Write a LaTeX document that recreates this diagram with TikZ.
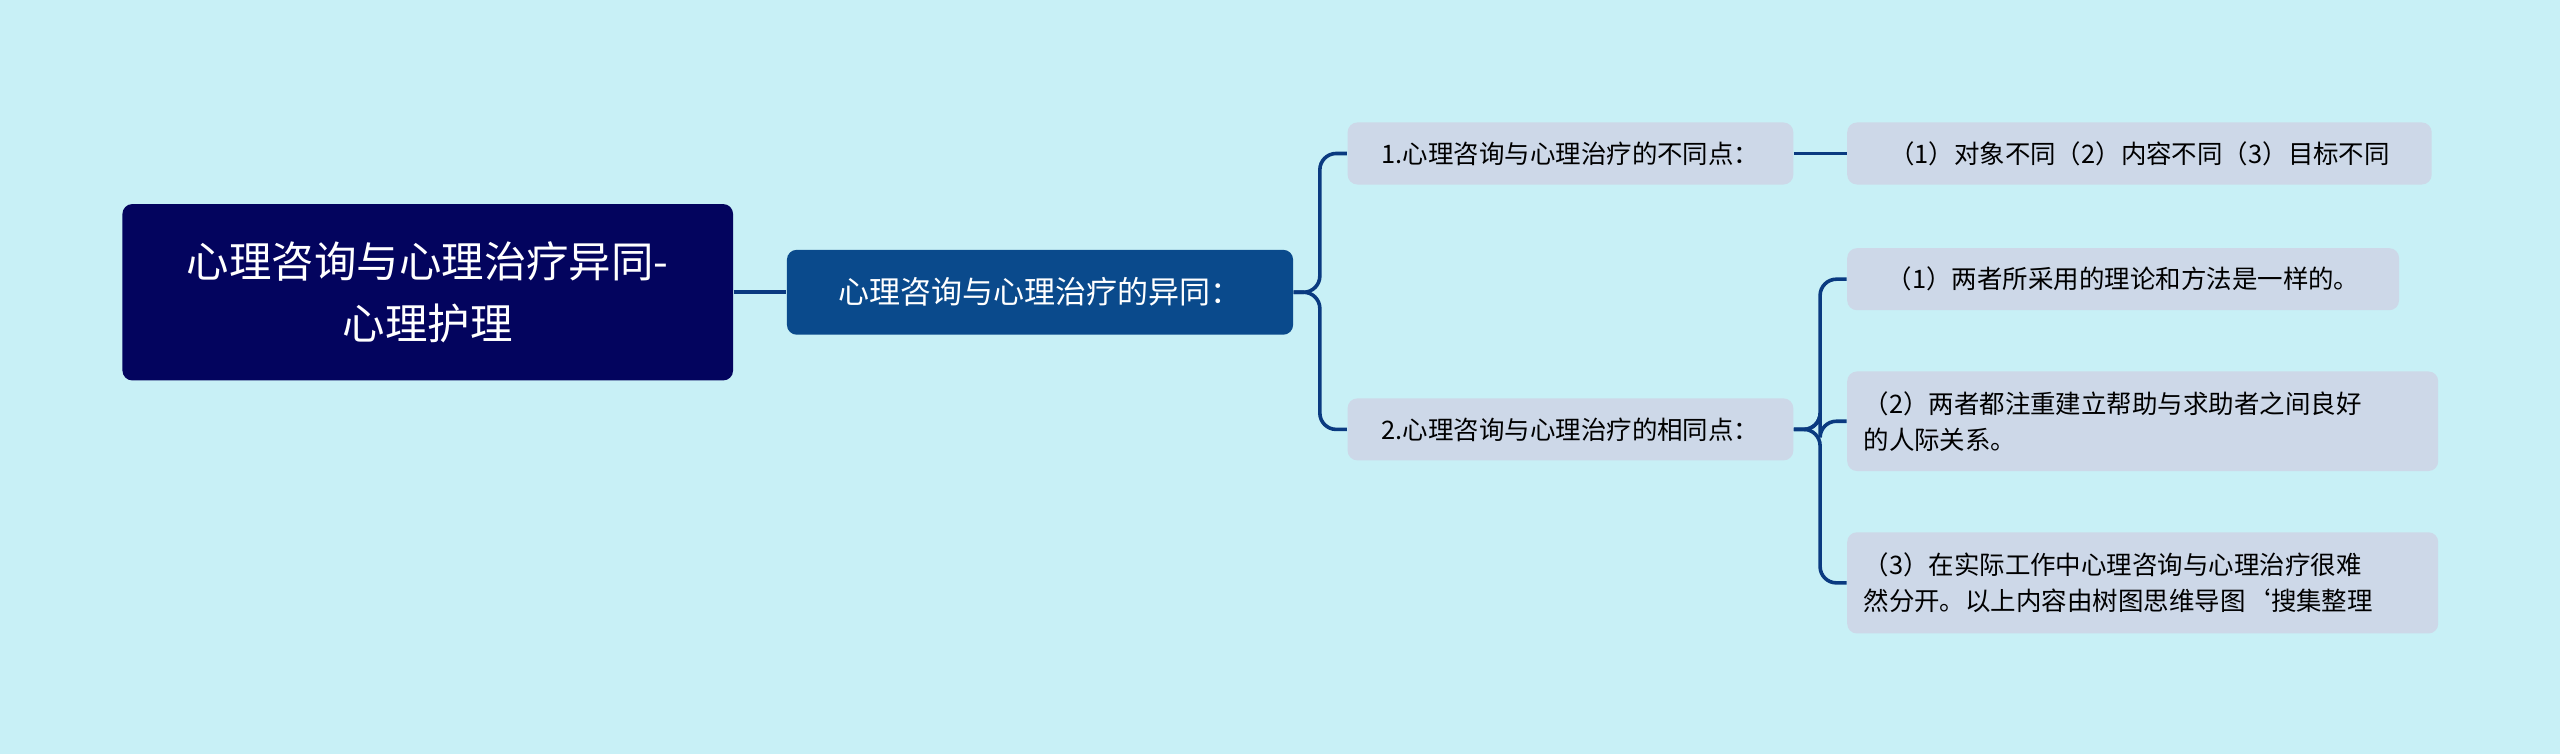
\documentclass[tikz,border=0pt]{standalone}
\usepackage{fontspec}
\setmainfont{Noto Sans CJK SC}
\definecolor{bg}{HTML}{C8F0F6}
\definecolor{rootc}{HTML}{03045E}
\definecolor{lonec}{HTML}{0A4A8C}
\definecolor{leafc}{HTML}{CDD8E8}
\definecolor{linec}{HTML}{0A3A80}
\begin{document}
\begin{tikzpicture}[x=0.5pt,y=-0.5pt,
  rootbox/.style={fill=rootc,text=white,rounded corners=3pt,font=\fontsize{13}{19}\selectfont,align=center,minimum width=187pt,minimum height=54pt,inner sep=0pt},
  lonebox/.style={fill=lonec,text=white,rounded corners=3pt,font=\fontsize{9.5}{12}\selectfont,minimum width=155pt,minimum height=26pt,inner sep=0pt},
  leafbox/.style={fill=leafc,text=black,rounded corners=3pt,font=\fontsize{7.8}{11}\selectfont,align=left,inner xsep=5pt,inner ysep=0pt,anchor=west},
  conn/.style={draw=linec,line width=1.1pt,rounded corners=5pt}]
\fill[bg] (0,0) rectangle (1568,462);
\node[rootbox] (root) at (262,179) {心理咨询与心理治疗异同-\\心理护理};
\node[lonebox] (l1) at (637,179) {心理咨询与心理治疗的异同：};
\node[leafbox,minimum width=136.5pt,minimum height=19pt] (a) at (825,94) {1.心理咨询与心理治疗的不同点：};
\node[leafbox,minimum width=179pt,minimum height=19pt] (a1) at (1131,94) {（1）对象不同（2）内容不同（3）目标不同};
\node[leafbox,minimum width=136.5pt,minimum height=19pt] (b) at (825,263) {2.心理咨询与心理治疗的相同点：};
\node[leafbox,minimum width=169pt,minimum height=19pt] (b1) at (1131,171) {（1）两者所采用的理论和方法是一样的。};
\node[leafbox,text width=171pt,minimum height=30.5pt] (b2) at (1131,258) {（2）两者都注重建立帮助与求助者之间良好\\的人际关系。};
\node[leafbox,text width=171pt,minimum height=31pt] (b3) at (1131,357) {（3）在实际工作中心理咨询与心理治疗很难\\然分开。以上内容由树图思维导图`搜集整理};
\draw[conn] (root.east) -- (l1.west);
\draw[conn] (l1.east) -- ([xshift=8pt]l1.east) |- (a.west);
\draw[conn] (l1.east) -- ([xshift=8pt]l1.east) |- (b.west);
\draw[conn] (a.east) -- (a1.west);
\draw[conn] (b.east) -- ([xshift=8pt]b.east) |- (b1.west);
\draw[conn] (b.east) -- ([xshift=8pt]b.east) |- (b2.west);
\draw[conn] (b.east) -- ([xshift=8pt]b.east) |- (b3.west);
\end{tikzpicture}
\end{document}
